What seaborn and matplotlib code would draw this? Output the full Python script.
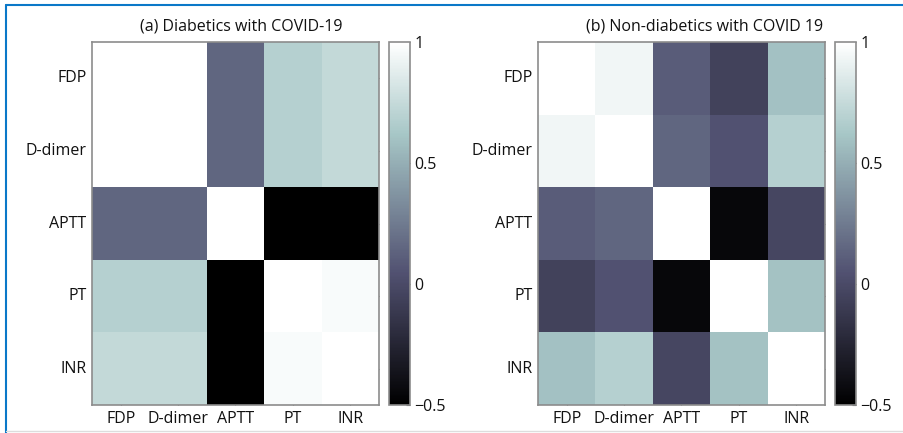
import numpy as np
import pandas as pd
import seaborn as sns
import matplotlib.pyplot as plt
from matplotlib.lines import Line2D

sns.set_style("white")
plt.rcParams['font.family'] = ['Open Sans', 'DejaVu Sans']

labels = ["FDP", "D-dimer", "APTT", "PT", "INR"]

# (a) Diabetics with COVID-19
diab = [
    [1.00, 1.00, 0.15, 0.68, 0.74],
    [1.00, 1.00, 0.15, 0.68, 0.74],
    [0.15, 0.15, 1.00, -0.50, -0.50],
    [0.68, 0.68, -0.50, 1.00, 0.97],
    [0.74, 0.74, -0.50, 0.97, 1.00],
]

# (b) Non-diabetics with COVID 19
nondiab = [
    [1.00, 0.94, 0.10, -0.06, 0.59],
    [0.94, 1.00, 0.15, 0.05, 0.68],
    [0.10, 0.15, 1.00, -0.45, -0.03],
    [-0.06, 0.05, -0.45, 1.00, 0.60],
    [0.59, 0.68, -0.03, 0.60, 1.00],
]

titles = ["(a) Diabetics with COVID-19", "(b) Non-diabetics with COVID 19"]
cbar_ticks = [-0.5, 0, 0.5, 1]
cbar_ticklabels = ["\u22120.5", "0", "0.5", "1"]

W, H = 904, 433
fig = plt.figure(figsize=(W / 100, H / 100), dpi=100)

def fx(px):
    return px / W

def fy(py):
    return 1 - py / H

top_px, bot_px = 42, 405
panels = [
    dict(ax=(92, 379), cb=(389, 410), tx=0.519),
    dict(ax=(538, 825), cb=(835, 856), tx=0.58),
]

FS = 11.5
frame_col = "#8c8c8c"
for data, title, p in zip([diab, nondiab], titles, panels):
    l, r = p["ax"]
    ax = fig.add_axes([fx(l), fy(bot_px), fx(r - l), (bot_px - top_px) / H])
    cl, cr = p["cb"]
    cax = fig.add_axes([fx(cl), fy(bot_px), fx(cr - cl), (bot_px - top_px) / H])
    df = pd.DataFrame(data, index=labels, columns=labels)
    sns.heatmap(df, ax=ax, cbar_ax=cax, cmap="bone", vmin=-0.5, vmax=1,
                square=False, linewidths=0)
    ax.set_title(title, fontsize=FS, x=p["tx"], pad=8, color="#111111")
    for s in ax.spines.values():
        s.set_visible(True)
        s.set_color(frame_col)
        s.set_linewidth(1.2)
    ax.tick_params(direction="in", length=3, width=0.8, color="#555555",
                   top=True, right=True, bottom=True, left=True,
                   labelsize=FS, pad=4, labelcolor="#111111")
    ax.set_xticklabels(labels, rotation=0)
    ax.set_yticklabels(labels, rotation=0)
    ax.set_xlabel("")
    ax.set_ylabel("")

    cax.set_yticks(cbar_ticks)
    cax.set_yticklabels(cbar_ticklabels)
    cax.tick_params(direction="in", length=3, width=0.8, color="#555555",
                    labelsize=FS, pad=3, right=True, left=False,
                    labelcolor="#111111")
    cb = ax.collections[0].colorbar
    cb.outline.set_visible(True)
    cb.outline.set_edgecolor(frame_col)
    cb.outline.set_linewidth(1.2)

blue = "#0a78c8"
fig.add_artist(Line2D([fx(6), 1], [fy(5), fy(5)], color=blue, lw=1.5,
                      transform=fig.transFigure))
fig.add_artist(Line2D([fx(6), fx(6)], [fy(5), 0], color=blue, lw=1.5,
                      transform=fig.transFigure))
fig.add_artist(Line2D([fx(6), 1], [fy(431), fy(431)], color="#dddddd", lw=1,
                      transform=fig.transFigure))

fig.savefig("out.png", dpi=100)
